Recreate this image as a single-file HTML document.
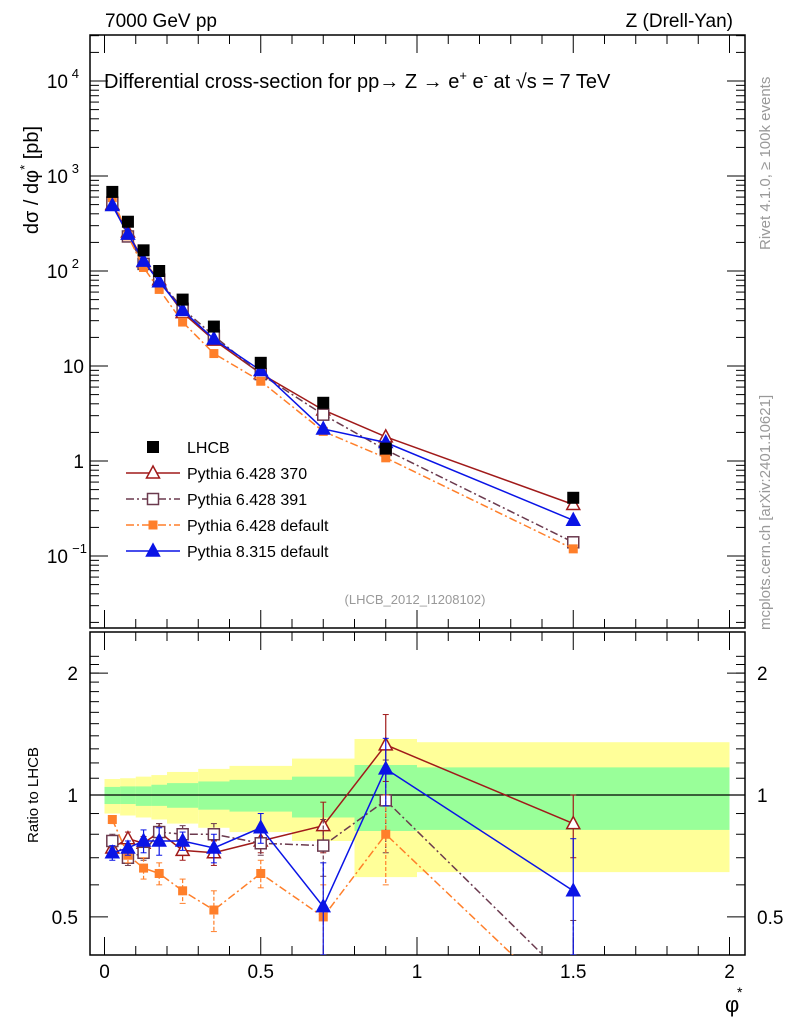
<!DOCTYPE html>
<html><head><meta charset="utf-8"><style>
html,body{margin:0;padding:0;background:#fff;width:786px;height:1024px;overflow:hidden}
svg{display:block;font-family:"Liberation Sans",sans-serif}
</style></head><body>
<svg id="c" width="786" height="1024" viewBox="0 0 786 1024" overflow="hidden"></svg>
<script>
const xs=[0.025,0.075,0.125,0.175,0.25,0.35,0.5,0.7,0.9,1.5];
const lhcb=[680,330,165,100,50,26,10.8,4.1,1.35,0.41];
const r370=[0.74,0.78,0.76,0.81,0.73,0.72,0.77,0.84,1.33,0.85];
const r391=[0.77,0.70,0.72,0.81,0.80,0.80,0.76,0.75,0.97,0.34];
const rdef6=[0.87,0.71,0.66,0.64,0.58,0.52,0.64,0.50,0.80,0.29];
const r8=[0.72,0.74,0.77,0.77,0.77,0.74,0.83,0.53,1.16,0.58];
const e370=[0.03,0.03,0.03,0.04,0.04,0.05,0.05,0.12,0.25,0.15];
const e391=[0.03,0.03,0.03,0.04,0.04,0.05,0.05,0.12,0.25,0.15];
const edef6=[0.02,0.03,0.04,0.04,0.04,0.06,0.05,0.1,0.2,0.1];
const e8=[0.03,0.03,0.05,0.06,0.04,0.06,0.07,0.15,0.22,0.2];
const binEdges=[0,0.05,0.1,0.15,0.2,0.3,0.4,0.6,0.8,1.0,2.0];
const yUp=[1.095,1.10,1.11,1.12,1.14,1.16,1.18,1.23,1.375,1.35];
const gUp=[1.047,1.05,1.05,1.06,1.07,1.08,1.09,1.11,1.186,1.17];
const gLo=[0.95,0.95,0.94,0.94,0.93,0.92,0.91,0.88,0.815,0.82];
const yLo=[0.90,0.89,0.88,0.87,0.85,0.83,0.81,0.77,0.627,0.645];
const xTicks=[0,0.5,1,1.5,2];
const NS='http://www.w3.org/2000/svg';
const svg=document.getElementById('c');
function el(t,a,p){const e=document.createElementNS(NS,t);for(const k in a)e.setAttribute(k,a[k]);(p||svg).appendChild(e);return e;}
const L=90,R=745,T=35,B=628,RT=632,RB=955;
const X=v=>104.5+v*312.5;
const Y=v=>461-Math.log10(v)*95;
const RY=v=>795-Math.log10(v)*405;
const gb=el('g',{});
const clip=el('clipPath',{id:'rc'});el('rect',{x:L,y:RT,width:R-L,height:RB-RT},clip);
const clip2=el('clipPath',{id:'mc'});el('rect',{x:L,y:T,width:R-L,height:B-T},clip2);
for(let i=0;i<yUp.length;i++){
 el('rect',{x:X(binEdges[i]),y:RY(yUp[i]),width:X(binEdges[i+1])-X(binEdges[i]),height:RY(yLo[i])-RY(yUp[i]),fill:'#ffff99'},gb);
}
for(let i=0;i<gUp.length;i++){
 el('rect',{x:X(binEdges[i]),y:RY(gUp[i]),width:X(binEdges[i+1])-X(binEdges[i]),height:RY(gLo[i])-RY(gUp[i]),fill:'#99ff99'},gb);
}
el('line',{x1:L,x2:R,y1:RY(1),y2:RY(1),stroke:'#000','stroke-width':1.3});
el('rect',{x:L,y:T,width:R-L,height:B-T,fill:'none',stroke:'#000','stroke-width':1.5});
el('rect',{x:L,y:RT,width:R-L,height:RB-RT,fill:'none',stroke:'#000','stroke-width':1.5});
for(let d=-2;d<=4;d++)for(let m=1;m<10;m++){const v=m*Math.pow(10,d);const y=Y(v);if(y<T||y>B)continue;const len=m==1?18:9;
 el('line',{x1:L,x2:L+len,y1:y,y2:y,stroke:'#000'});el('line',{x1:R,x2:R-len,y1:y,y2:y,stroke:'#000'});}
const ylab=[[1e4,'10','4'],[1e3,'10','3'],[100,'10','2'],[10,'10',''],[1,'1',''],[0.1,'10','−1']];
ylab.forEach(([v,b,s])=>{const t=el('text',{x:s?68:84,y:Y(v)+7,'font-size':19,'text-anchor':'end'});t.textContent=b;
 if(s){const u=el('text',{x:s.length>1?87:79,y:Y(v)-3,'font-size':13,'text-anchor':'end'});u.textContent=s;}});
for(const v of [0.4,0.5,0.6,0.7,0.8,0.9,1,2]){const y=RY(v);if(y<RT||y>RB)continue;const len=(v==1||v==2||v==0.5)?18:9;
 el('line',{x1:L,x2:L+len,y1:y,y2:y,stroke:'#000'});el('line',{x1:R,x2:R-len,y1:y,y2:y,stroke:'#000'});}
for(let v=1.1;v<2.3;v+=0.1){const y=RY(v);if(y<RT)continue;el('line',{x1:L,x2:L+9,y1:y,y2:y,stroke:'#000'});el('line',{x1:R,x2:R-9,y1:y,y2:y,stroke:'#000'});}
[[2,'2'],[1,'1'],[0.5,'0.5']].forEach(([v,s])=>{let t=el('text',{x:78,y:RY(v)+7,'font-size':19,'text-anchor':'end'});t.textContent=s;
 t=el('text',{x:757,y:RY(v)+7,'font-size':19});t.textContent=s;});
for(let i=0;i<=21;i++){const v=i*0.1;const x=X(v);if(x>R)continue;const maj=i%5==0;const len=maj?18:9;
 for(const [y0,dir] of [[B,-1],[T,1],[RB,-1],[RT,1]])el('line',{x1:x,x2:x,y1:y0,y2:y0+dir*len,stroke:'#000'});}
xTicks.forEach(v=>{const t=el('text',{x:X(v),y:978,'font-size':19,'text-anchor':'middle'});t.textContent=String(v);});
const S=[
 {n:'pythia-6428-370',r:r370,c:'#a01a1a',d:'',m:'tri-open',e:e370},
 {n:'pythia-6428-391',r:r391,c:'#6b3a4e',d:'8,3,2,3',m:'sq-open',e:e391},
 {n:'pythia-6428-default',r:rdef6,c:'#ff7f2a',d:'8,3,2,3',m:'sq-fill',e:edef6},
 {n:'pythia-8315-default',r:r8,c:'#0a14e6',d:'',m:'tri-fill',e:e8}];
function marker(g,m,x,y,c){
 if(m.startsWith('tri'))el('polygon',{points:`${x},${y-7} ${x-6.5},${y+5} ${x+6.5},${y+5}`,fill:m=='tri-fill'?c:'#fff',stroke:c,'stroke-width':1.5},g);
 else if(m=='sq-open')el('rect',{x:x-5.5,y:y-5.5,width:11,height:11,fill:'#fff',stroke:c,'stroke-width':1.5},g);
 else el('rect',{x:x-4.5,y:y-4.5,width:9,height:9,fill:c},g);}
S.forEach(s=>{
 const g=el('g',{'clip-path':'url(#mc)'});
 const pts=xs.map((x,i)=>[X(x),Y(s.r[i]*lhcb[i])]);
 el('polyline',{points:pts.map(p=>p.join(',')).join(' '),fill:'none',stroke:s.c,'stroke-width':1.5,'stroke-dasharray':s.d},g);
 pts.forEach(p=>marker(g,s.m,p[0],p[1],s.c));
 const h=el('g',{'clip-path':'url(#rc)'});
 const rp=xs.map((x,i)=>[X(x),RY(s.r[i])]);
 el('polyline',{points:rp.map(p=>p.join(',')).join(' '),fill:'none',stroke:s.c,'stroke-width':1.5,'stroke-dasharray':s.d},h);
 xs.forEach((x,i)=>{const a=RY(s.r[i]+s.e[i]),b=Math.min(RB,RY(Math.max(0.05,s.r[i]-s.e[i])));el('line',{x1:X(x),x2:X(x),y1:a,y2:b,stroke:s.c,'stroke-width':1.2,'stroke-dasharray':s.d?'4,2':''},h);
  el('line',{x1:X(x)-3,x2:X(x)+3,y1:a,y2:a,stroke:s.c},h);el('line',{x1:X(x)-3,x2:X(x)+3,y1:b,y2:b,stroke:s.c},h);});
 rp.forEach(p=>marker(h,s.m,p[0],p[1],s.c));
});
const gd=el('g',{});
xs.forEach((x,i)=>el('rect',{x:X(x)-6,y:Y(lhcb[i])-6,width:12,height:12,fill:'#000'},gd));
const leg=el('g',{});
const names=['LHCB','Pythia 6.428 370','Pythia 6.428 391','Pythia 6.428 default','Pythia 8.315 default'];
names.forEach((n,i)=>{const y=447+i*26;
 if(i==0)el('rect',{x:147,y:y-6,width:12,height:12,fill:'#000'},leg);
 else{const s=S[i-1];el('line',{x1:126,x2:180,y1:y,y2:y,stroke:s.c,'stroke-width':1.5,'stroke-dasharray':s.d},leg);marker(leg,s.m,153,y,s.c);}
 const t=el('text',{x:187,y:y+6,'font-size':16},leg);t.textContent=n;});
function txt(x,y,s,a){const t=el('text',Object.assign({x,y},a));t.textContent=s;return t;}
txt(105,27,'7000 GeV pp',{'font-size':19});
txt(733,27,'Z (Drell-Yan)',{'font-size':19,'text-anchor':'end'});
const ti=txt(104,88,'',{'font-size':20});ti.innerHTML='Differential cross-section for pp→  Z →  e<tspan dy="-8" font-size="13">+</tspan><tspan dy="8"> e</tspan><tspan dy="-8" font-size="13">-</tspan><tspan dy="8"> at √s = 7 TeV</tspan>';
txt(415,604,'(LHCB_2012_I1208102)',{'font-size':13,fill:'#999','text-anchor':'middle'});
txt(0,0,'Rivet 4.1.0, ≥ 100k events',{'font-size':15,fill:'#999',transform:'translate(770,250) rotate(-90)'});
txt(0,0,'mcplots.cern.ch [arXiv:2401.10621]',{'font-size':15,fill:'#999',transform:'translate(770,630) rotate(-90)'});
const yl=txt(0,0,'',{'font-size':20,transform:'translate(38,180) rotate(-90)','text-anchor':'middle'});yl.innerHTML='dσ / dφ<tspan dy="-9" font-size="13">*</tspan><tspan dy="9"> [pb]</tspan>';
txt(0,0,'Ratio to LHCB',{'font-size':15,transform:'translate(38,795) rotate(-90)','text-anchor':'middle'});
txt(725,1012,'φ',{'font-size':22});
txt(737,997,'*',{'font-size':14});
</script>
</body></html>
